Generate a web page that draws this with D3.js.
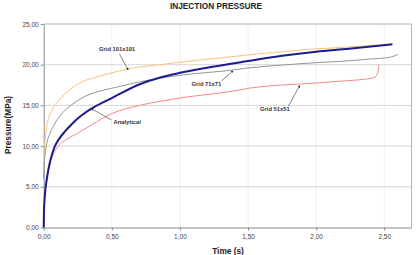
<!DOCTYPE html>
<html>
<head>
<meta charset="utf-8">
<script src="https://cdn.jsdelivr.net/npm/d3@7"></script>
<style>
  body { margin: 0; background: #fff; }
  svg { font-family: Arial, "Liberation Sans", sans-serif; }
</style>
</head>
<body>
<div id="chart"></div>
<script>
// data: time (s) and pressure (MPa)
var analyticalT = [0, 0.002, 0.004, 0.007, 0.012, 0.019, 0.03, 0.044, 0.06, 0.08, 0.11, 0.156, 0.2, 0.265, 0.35, 0.5, 0.705, 0.85, 1.0, 1.24, 1.5, 1.75, 2.0, 2.24, 2.56];
var analyticalP = [0, 2.0, 2.8, 3.6, 4.6, 5.5, 6.7, 7.9, 8.9, 9.9, 10.8, 11.8, 12.6, 13.6, 14.6, 15.9, 17.6, 18.4, 19.0, 19.75, 20.45, 21.1, 21.6, 21.95, 22.5];

var grid101T = [0, 0.003, 0.008, 0.015, 0.022, 0.04, 0.07, 0.105, 0.156, 0.22, 0.29, 0.4, 0.5, 0.62, 0.8, 1.0, 1.19, 1.5, 1.75, 2.0, 2.17, 2.35, 2.535];
var grid101P = [6.5, 8.8, 10.4, 11.5, 12.4, 13.6, 14.7, 15.5, 16.4, 17.3, 17.95, 18.55, 19.0, 19.5, 19.9, 20.3, 20.65, 21.2, 21.6, 21.95, 22.1, 22.3, 22.5];

var grid71T = [0, 0.004, 0.01, 0.022, 0.04, 0.07, 0.11, 0.156, 0.2, 0.29, 0.4, 0.5, 0.705, 1.0, 1.39, 1.5, 1.75, 2.0, 2.17, 2.4, 2.535, 2.57, 2.6];
var grid71P = [6.0, 7.8, 9.0, 10.3, 11.3, 12.4, 13.5, 14.4, 15.0, 16.0, 16.7, 17.1, 17.9, 18.7, 19.35, 19.6, 19.95, 20.25, 20.4, 20.7, 20.9, 21.05, 21.25];

var grid51T = [0, 0.004, 0.012, 0.03, 0.045, 0.06, 0.08, 0.1, 0.13, 0.17, 0.2, 0.24, 0.35, 0.5, 0.705, 1.0, 1.44, 1.5, 2.0, 2.2, 2.41, 2.44, 2.455, 2.462];
var grid51P = [0, 2.8, 4.6, 6.7, 7.8, 8.6, 9.3, 9.85, 10.4, 10.85, 11.15, 11.5, 12.6, 14.0, 15.0, 15.9, 16.9, 17.1, 17.75, 18.0, 18.35, 18.6, 19.3, 20.0];

var xTicks = [0, 0.5, 1.0, 1.5, 2.0, 2.5];
var yTicks = [0, 5, 10, 15, 20, 25];

function zip(t, p) { return t.map(function(d, i) { return [d, p[i]]; }); }

var series = [
  {name: "Grid 101x101", values: zip(grid101T, grid101P), color: "#f7c47a", w: 1},
  {name: "Grid 71x71", values: zip(grid71T, grid71P), color: "#8c9c8c", w: 1},
  {name: "Grid 51x51", values: zip(grid51T, grid51P), color: "#f08a8a", w: 1},
  {name: "Analytical", values: zip(analyticalT, analyticalP), color: "#1c1c8c", w: 2}
];

var W = 416, H = 255;
var margin = {top: 24, right: 4.5, bottom: 27.5, left: 43.7};

var svg = d3.select("#chart").append("svg")
    .attr("width", W)
    .attr("height", H);

var x = d3.scaleLinear().domain([0, 2.7]).range([margin.left, W - margin.right]);
var y = d3.scaleLinear().domain([0, 25]).range([H - margin.bottom, margin.top]);

var comma = function(d) { return d3.format(".2f")(d).replace(".", ","); };

// vertical gridlines (faint)
svg.append("g").selectAll("line")
  .data(xTicks.filter(function(d) { return d > 0; }))
  .enter().append("line")
    .attr("x1", function(d) { return x(d); })
    .attr("x2", function(d) { return x(d); })
    .attr("y1", y(0))
    .attr("y2", y(25))
    .attr("stroke", "#d8d8d8")
    .attr("stroke-width", 0.8)
    .attr("stroke-dasharray", "1,1");

// horizontal gridlines
svg.append("g").selectAll("line")
  .data(yTicks.filter(function(d) { return d > 0 && d < 25; }))
  .enter().append("line")
    .attr("x1", x(0))
    .attr("x2", x(2.7))
    .attr("y1", function(d) { return y(d); })
    .attr("y2", function(d) { return y(d); })
    .attr("stroke", "#9a9a9a")
    .attr("stroke-width", 0.8)
    .attr("stroke-dasharray", "1,1");

// top and right border
svg.append("path")
  .attr("d", "M" + x(0) + "," + y(25) + "H" + x(2.7) + "V" + y(0))
  .attr("fill", "none")
  .attr("stroke", "#b4b4b4")
  .attr("stroke-width", 1);

// axes
var xAxis = svg.append("g")
  .attr("transform", "translate(0," + y(0) + ")")
  .call(d3.axisBottom(x).tickValues(xTicks).tickFormat(comma).tickSize(3).tickSizeOuter(0));
var yAxis = svg.append("g")
  .attr("transform", "translate(" + x(0) + ",0)")
  .call(d3.axisLeft(y).tickValues(yTicks).tickFormat(comma).tickSize(3).tickSizeOuter(0));

[xAxis, yAxis].forEach(function(a) {
  a.select(".domain").attr("stroke", "#8a8a8a");
  a.selectAll(".tick line").attr("stroke", "#8a8a8a");
  a.selectAll(".tick text")
    .attr("fill", "#444")
    .style("font-size", "6.5px")
    .style("font-family", "Arial, 'Liberation Sans', sans-serif");
});
xAxis.selectAll(".tick text").attr("dy", "0.9em");
yAxis.selectAll(".tick text").attr("x", -5);

// lines
var line = d3.line()
  .x(function(d) { return x(d[0]); })
  .y(function(d) { return y(d[1]); })
  .curve(d3.curveMonotoneX);

svg.append("g").selectAll("path")
  .data(series)
  .enter().append("path")
    .attr("d", function(d) { return line(d.values); })
    .attr("fill", "none")
    .attr("stroke", function(d) { return d.color; })
    .attr("stroke-width", function(d) { return d.w; });

// arrow head
svg.append("defs").append("marker")
  .attr("id", "arr")
  .attr("viewBox", "0 0 10 10")
  .attr("refX", 9).attr("refY", 5)
  .attr("markerWidth", 4).attr("markerHeight", 4)
  .attr("orient", "auto")
  .append("path")
    .attr("d", "M0,0L10,5L0,10Z")
    .attr("fill", "#222");

// labels with arrows pointing at the curves (tip in data units)
var notes = [
  {text: "Grid 101x101", tx: 99, ty: 51, fx: 119.5, fy: 54, tip: [0.62, 19.35]},
  {text: "Analytical", tx: 113.5, ty: 124, fx: 111.5, fy: 120, tip: [0.35, 14.6]},
  {text: "Grid 71x71", tx: 191.5, ty: 85.5, fx: 221.5, fy: 81, tip: [1.39, 19.25]},
  {text: "Grid 51x51", tx: 260, ty: 110.5, fx: 288.5, fy: 106, tip: [1.88, 17.45]}
];

notes.forEach(function(n) {
  svg.append("line")
    .attr("x1", n.fx).attr("y1", n.fy)
    .attr("x2", x(n.tip[0])).attr("y2", y(n.tip[1]))
    .attr("stroke", "#333")
    .attr("stroke-width", 0.6)
    .attr("marker-end", "url(#arr)");
  svg.append("text")
    .attr("x", n.tx).attr("y", n.ty)
    .text(n.text)
    .style("font-size", "5.8px")
    .style("font-weight", "bold")
    .attr("fill", "#333");
});

// titles
svg.append("text")
  .attr("x", 216).attr("y", 8.5)
  .attr("text-anchor", "middle")
  .style("font-size", "8.3px")
  .style("font-weight", "bold")
  .attr("fill", "#222")
  .text("INJECTION PRESSURE");

svg.append("text")
  .attr("x", 228).attr("y", 254)
  .attr("text-anchor", "middle")
  .style("font-size", "8.3px")
  .style("font-weight", "bold")
  .attr("fill", "#222")
  .text("Time (s)");

svg.append("text")
  .attr("transform", "translate(11,125) rotate(-90)")
  .attr("text-anchor", "middle")
  .style("font-size", "8.3px")
  .style("font-weight", "bold")
  .attr("fill", "#222")
  .text("Pressure(MPa)");
</script>
</body>
</html>
